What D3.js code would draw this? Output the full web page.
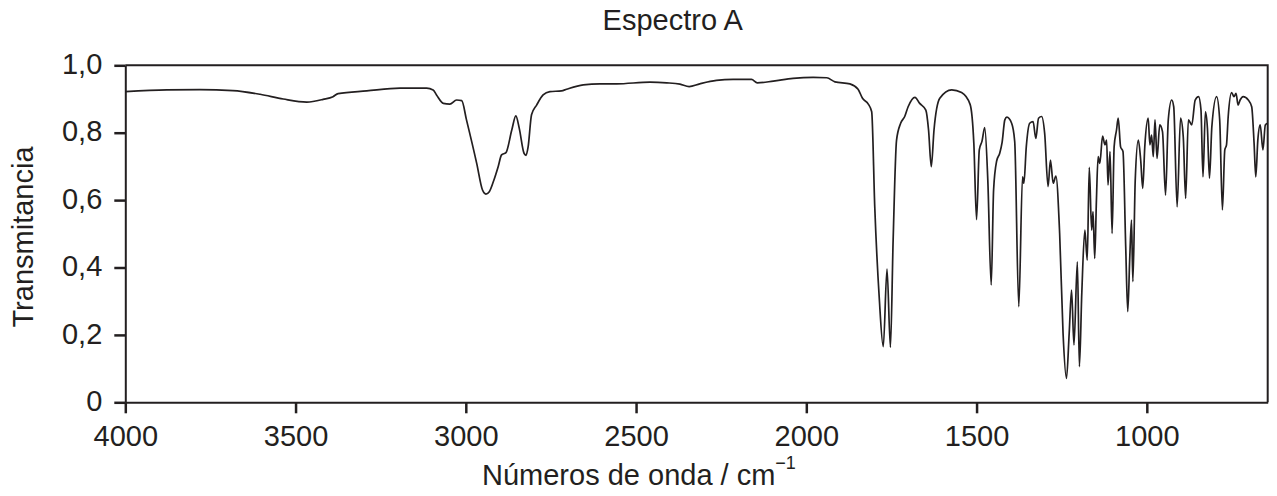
<!DOCTYPE html>
<html>
<head>
<meta charset="utf-8">
<script src="https://cdn.jsdelivr.net/npm/d3@7"></script>
<style>
  html, body { margin: 0; padding: 0; background: #fff; }
  svg { display: block; font-family: "Liberation Sans", Arial, sans-serif; }
</style>
</head>
<body>
<svg id="chart" width="1277" height="496"></svg>
<script>
// wavenumbers (cm-1) and transmittance
const wavenumbers = [
  4000, 3878, 3781, 3684, 3604, 3536, 3467, 3419, 3390, 3375, 3291, 3193, 3115, 3096, 3086, 3066,
  3047, 3027, 3012, 2998, 2968, 2951, 2941, 2931, 2919, 2905, 2895, 2882, 2865, 2853, 2843, 2829,
  2823, 2817, 2807, 2792, 2773, 2753, 2719, 2704, 2655, 2606, 2557, 2459, 2410, 2371, 2344, 2313,
  2264, 2215, 2161, 2144, 2097, 2039, 1980, 1940, 1916, 1872, 1848, 1835, 1818, 1808, 1799, 1786,
  1774, 1763, 1753, 1745, 1735, 1723, 1711, 1701, 1681, 1667, 1649, 1641, 1633, 1625, 1608, 1573,
  1544, 1519, 1508, 1500, 1492, 1484, 1476, 1467, 1457, 1450, 1441, 1432, 1425, 1417, 1411, 1397,
  1388, 1376, 1365, 1361, 1354, 1344, 1334, 1326, 1318, 1309, 1300, 1290, 1283, 1275, 1267, 1256,
  1246, 1236, 1228, 1221, 1214, 1204, 1198, 1191, 1182, 1175, 1169, 1162, 1158, 1153, 1148, 1143,
  1138, 1130, 1123, 1118, 1114, 1108, 1102, 1096, 1089, 1084, 1077, 1070, 1062, 1056, 1050, 1045,
  1041, 1034, 1025, 1018, 1012, 1006, 996, 991, 986, 981, 976, 970, 962, 954, 945, 937,
  927, 921, 911, 901, 893, 886, 878, 868, 858, 848, 841, 835, 828, 822, 816, 809,
  795, 786, 778, 771, 766, 761, 751, 744, 738, 732, 726, 717, 702, 692, 685, 680,
  674, 667, 659, 652, 645
];
const transmittance = [
  0.922, 0.927, 0.928, 0.925, 0.914, 0.900, 0.891, 0.899, 0.907, 0.916, 0.924, 0.932, 0.932, 0.927, 0.912, 0.887,
  0.885, 0.897, 0.895, 0.838, 0.709, 0.630, 0.618, 0.625, 0.655, 0.699, 0.734, 0.741, 0.808, 0.850, 0.813, 0.739,
  0.733, 0.758, 0.853, 0.882, 0.912, 0.922, 0.924, 0.929, 0.942, 0.945, 0.945, 0.950, 0.948, 0.944, 0.937, 0.945,
  0.955, 0.958, 0.958, 0.948, 0.953, 0.961, 0.964, 0.963, 0.951, 0.945, 0.929, 0.902, 0.885, 0.862, 0.580, 0.313,
  0.165, 0.395, 0.163, 0.482, 0.778, 0.828, 0.848, 0.877, 0.905, 0.887, 0.867, 0.808, 0.699, 0.808, 0.902, 0.927,
  0.919, 0.884, 0.768, 0.542, 0.749, 0.775, 0.815, 0.660, 0.348, 0.630, 0.716, 0.739, 0.771, 0.838, 0.846, 0.828,
  0.774, 0.284, 0.669, 0.650, 0.758, 0.828, 0.833, 0.783, 0.843, 0.848, 0.798, 0.640, 0.719, 0.650, 0.671, 0.501,
  0.205, 0.071, 0.205, 0.333, 0.170, 0.417, 0.106, 0.323, 0.511, 0.422, 0.697, 0.511, 0.566, 0.427, 0.600, 0.729,
  0.709, 0.790, 0.764, 0.778, 0.645, 0.744, 0.501, 0.758, 0.808, 0.843, 0.758, 0.744, 0.462, 0.269, 0.432, 0.541,
  0.358, 0.660, 0.778, 0.719, 0.635, 0.758, 0.843, 0.764, 0.793, 0.729, 0.838, 0.724, 0.823, 0.803, 0.615, 0.838,
  0.897, 0.877, 0.580, 0.843, 0.788, 0.605, 0.838, 0.823, 0.897, 0.907, 0.868, 0.669, 0.862, 0.813, 0.665, 0.818,
  0.907, 0.838, 0.571, 0.749, 0.764, 0.848, 0.919, 0.907, 0.917, 0.882, 0.897, 0.907, 0.897, 0.877, 0.769, 0.669,
  0.778, 0.823, 0.749, 0.823, 0.828
];
const xTicks = [4000, 3500, 3000, 2500, 2000, 1500, 1000];
const yTicks = [0, 0.2, 0.4, 0.6, 0.8, 1.0];

const width = 1277;
const height = 496;
const margin = ({ top: 65.3, right: 9.3, bottom: 93.7, left: 125.3 });
const ink = '#231f20';
const fontSize = 29;

const data = wavenumbers.map((wn, i) => ({ wn, t: transmittance[i] }));

const x = d3.scaleLinear()
  .domain([4000, 645])
  .range([margin.left, width - margin.right]);

const y = d3.scaleLinear()
  .domain([0, 1])
  .range([height - margin.bottom, margin.top]);

const svg = d3.select('#chart');

const yFormat = d => d === 0 ? '0' : d3.format('.1f')(d).replace('.', ',');

// frame (top + right)
svg.append('path')
  .attr('d', `M${margin.left},${margin.top}H${width - margin.right}V${height - margin.bottom}`)
  .attr('fill', 'none')
  .attr('stroke', ink)
  .attr('stroke-width', 2);

const styleAxis = g => {
  g.select('.domain').attr('stroke', ink).attr('stroke-width', 2);
  g.selectAll('.tick line').attr('stroke', ink).attr('stroke-width', 2.5);
  g.selectAll('.tick text')
    .attr('fill', ink)
    .attr('font-size', fontSize)
    .attr('font-family', '"Liberation Sans", Arial, sans-serif');
};

svg.append('g')
  .attr('transform', `translate(0,${height - margin.bottom})`)
  .call(d3.axisBottom(x).tickValues(xTicks).tickSize(11).tickSizeOuter(0).tickPadding(12).tickFormat(d3.format('d')))
  .call(styleAxis);

svg.append('g')
  .attr('transform', `translate(${margin.left},0)`)
  .call(d3.axisLeft(y).tickValues(yTicks).tickSize(11).tickSizeOuter(0).tickPadding(12).tickFormat(yFormat))
  .call(styleAxis)
  .call(g => g.selectAll('.tick text').attr('dy', '0.28em'));

const line = d3.line()
  .x(d => x(d.wn))
  .y(d => y(d.t))
  .curve(d3.curveMonotoneX);

svg.append('path')
  .datum(data)
  .attr('fill', 'none')
  .attr('stroke', ink)
  .attr('stroke-width', 1.7)
  .attr('stroke-linejoin', 'round')
  .attr('d', line);

// title
svg.append('text')
  .attr('x', 672.7)
  .attr('y', 29.5)
  .attr('text-anchor', 'middle')
  .attr('font-size', fontSize)
  .attr('fill', ink)
  .text('Espectro A');

// y label
svg.append('text')
  .attr('transform', `translate(33,${237}) rotate(-90)`)
  .attr('text-anchor', 'middle')
  .attr('font-size', fontSize)
  .attr('fill', ink)
  .text('Transmitancia');

// x label with superscript
const xLabel = svg.append('text')
  .attr('x', 482)
  .attr('y', 485)
  .attr('font-size', fontSize)
  .attr('fill', ink);
xLabel.append('tspan').text('Números de onda / cm');
xLabel.append('tspan')
  .attr('font-size', 18)
  .attr('dy', -16.5)
  .text('\u22121');
</script>
</body>
</html>
